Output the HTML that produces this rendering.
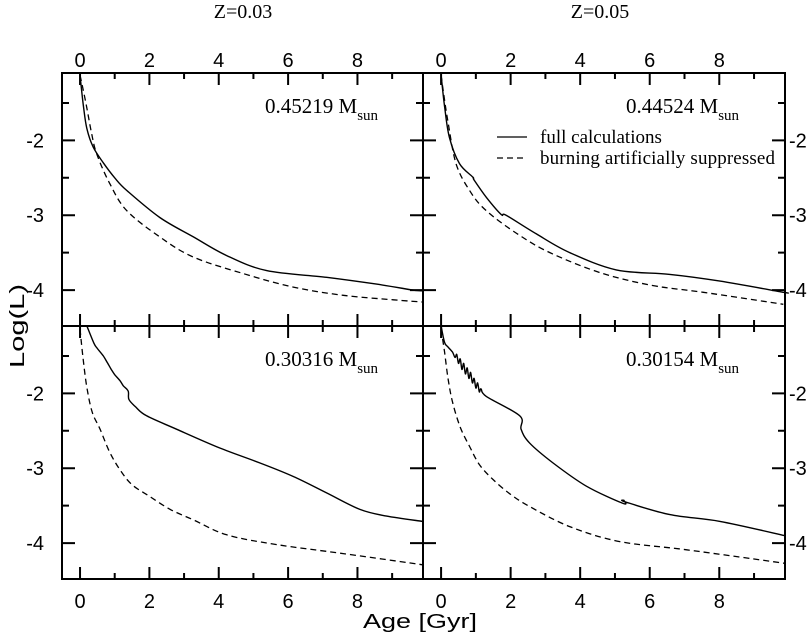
<!DOCTYPE html>
<html><head><meta charset="utf-8">
<style>
html,body{margin:0;padding:0;background:#fff;}
svg{display:block;}
.ax{font-family:"Liberation Sans",sans-serif;font-size:20px;fill:#000;}
.sr{font-family:"Liberation Serif",serif;fill:#000;}
</style></head>
<body>
<svg id="chart" width="812" height="636" viewBox="0 0 812 636" xmlns="http://www.w3.org/2000/svg">
<text class="sr" x="243" y="18" font-size="20" text-anchor="middle">Z=0.03</text>
<text class="sr" x="600" y="18" font-size="20" text-anchor="middle">Z=0.05</text>
<text class="ax" x="420" y="628" font-size="28" text-anchor="middle" textLength="114" lengthAdjust="spacingAndGlyphs">Age [Gyr]</text>
<text class="ax" transform="translate(24,326) rotate(-90)" font-size="26" text-anchor="middle" textLength="84" lengthAdjust="spacingAndGlyphs">Log(L)</text>
<g>
<line x1="497" y1="137" x2="527" y2="137" stroke="#000" stroke-width="1.3"/>
<text class="sr" x="540" y="143" font-size="19">full calculations</text>
<line x1="497" y1="158" x2="527" y2="158" stroke="#000" stroke-width="1.3" stroke-dasharray="6,4"/>
<text class="sr" x="540" y="164" font-size="19" textLength="235">burning artificially suppressed</text>
</g>
</svg>
<script>
// Panel data (age in Gyr, log L)
const tlSolidT=[0,0.1,0.2,0.38,0.67,1.0,1.35,2.3,3.27,4.23,5.38,7.11,8.55,9.6,9.88];
const tlSolidL=[-1.13,-1.55,-1.85,-2.09,-2.3,-2.5,-2.67,-3.03,-3.29,-3.54,-3.74,-3.83,-3.92,-4.0,-4.01];
const tlDashT=[0,0.08,0.19,0.33,0.48,0.86,1.35,2.3,3.27,4.71,6.15,7.59,9.03,9.88];
const tlDashL=[-1.13,-1.3,-1.55,-1.9,-2.18,-2.58,-2.94,-3.29,-3.56,-3.78,-3.96,-4.07,-4.13,-4.16];
const trSolidT=[0,0.1,0.24,0.53,0.91,0.95,1.3,1.73,1.87,2.74,3.7,5.04,6.58,8.02,9.84,9.88];
const trSolidL=[-1.13,-1.55,-1.96,-2.31,-2.49,-2.53,-2.76,-2.99,-3.0,-3.25,-3.5,-3.73,-3.79,-3.88,-4.03,-4.03];
const trDashT=[0,0.08,0.19,0.43,0.82,1.3,2.26,3.22,4.66,6.1,7.54,9.84];
const trDashL=[-1.13,-1.4,-1.73,-2.31,-2.67,-2.94,-3.27,-3.52,-3.78,-3.94,-4.03,-4.19];
const blSolidT=[0.19,0.4,0.5,0.67,0.8,0.9,1.0,1.15,1.25,1.39,1.41,1.6,1.92,2.79,4.03,5.19,6.15,7.11,8.07,8.84,9.88];
const blSolidL=[-1.09,-1.33,-1.4,-1.5,-1.6,-1.68,-1.75,-1.83,-1.9,-1.97,-2.08,-2.18,-2.3,-2.48,-2.73,-2.93,-3.11,-3.33,-3.55,-3.64,-3.71];
const blDashT=[0,0.08,0.19,0.35,0.58,0.85,1.15,1.5,2.02,2.6,3.27,4.23,5.67,7.59,9.88];
const blDashL=[-1.14,-1.5,-1.9,-2.25,-2.48,-2.78,-3.02,-3.22,-3.38,-3.55,-3.69,-3.89,-4.02,-4.14,-4.29];
const brSolidT=[0,0.1,0.2,0.33,0.4,0.45,0.5,0.55,0.6,0.65,0.7,0.75,0.8,0.85,0.9,0.95,1.0,1.05,1.1,1.15,1.3,2.26,2.3,2.54,3.22,4.18,5.23,5.26,5.3,6.58,8.02,9.88];
const brSolidL=[-1.1,-1.32,-1.38,-1.45,-1.52,-1.48,-1.6,-1.54,-1.68,-1.6,-1.74,-1.66,-1.8,-1.72,-1.86,-1.8,-1.93,-1.86,-1.98,-1.94,-2.04,-2.3,-2.48,-2.66,-2.93,-3.24,-3.47,-3.43,-3.45,-3.62,-3.71,-3.9];
const brDashT=[0,0.1,0.2,0.33,0.55,0.82,1.1,1.49,2.0,2.54,3.7,5.14,7.06,9.88];
const brDashL=[-1.14,-1.45,-1.8,-2.12,-2.45,-2.71,-2.95,-3.15,-3.35,-3.51,-3.78,-3.98,-4.09,-4.27];
const massLabels=["0.45219","0.44524","0.30316","0.30154"];
const xTickLabels=[0,2,4,6,8];
const yTickLabels=[-2,-3,-4];

const NS="http://www.w3.org/2000/svg";
const svg=document.getElementById('chart');
const XMIN=-0.52,XMAX=9.89,YMAX=-1.1,YMIN=-4.48;
const panels=[
 {x0:62,x1:423,y0:73,y1:326,s:[tlSolidT,tlSolidL],d:[tlDashT,tlDashL],m:massLabels[0],name:'top-left',top:true,left:true},
 {x0:423,x1:785,y0:73,y1:326,s:[trSolidT,trSolidL],d:[trDashT,trDashL],m:massLabels[1],name:'top-right',top:true,left:false},
 {x0:62,x1:423,y0:326,y1:579,s:[blSolidT,blSolidL],d:[blDashT,blDashL],m:massLabels[2],name:'bottom-left',top:false,left:true},
 {x0:423,x1:785,y0:326,y1:579,s:[brSolidT,brSolidL],d:[brDashT,brDashL],m:massLabels[3],name:'bottom-right',top:false,left:false}
];
function mk(tag,attrs,parent){const e=document.createElementNS(NS,tag);for(const k in attrs)e.setAttribute(k,attrs[k]);(parent||svg).appendChild(e);return e;}
function smooth(P){
 let d='M'+P[0][0].toFixed(1)+','+P[0][1].toFixed(1);
 for(let i=0;i<P.length-1;i++){
  const p0=P[Math.max(0,i-1)],p1=P[i],p2=P[i+1],p3=P[Math.min(P.length-1,i+2)];
  const k=1/6;
  const c1=[p1[0]+(p2[0]-p0[0])*k,p1[1]+(p2[1]-p0[1])*k];
  const c2=[p2[0]-(p3[0]-p1[0])*k,p2[1]-(p3[1]-p1[1])*k];
  d+='C'+c1[0].toFixed(1)+','+c1[1].toFixed(1)+' '+c2[0].toFixed(1)+','+c2[1].toFixed(1)+' '+p2[0].toFixed(1)+','+p2[1].toFixed(1);
 }
 return d;
}
panels.forEach(p=>{
 const sx=t=>p.x0+(t-XMIN)/(XMAX-XMIN)*(p.x1-p.x0);
 const sy=v=>p.y0+(YMAX-v)/(YMAX-YMIN)*(p.y1-p.y0);
 const g=mk('g',{});
 
 
 let tk='';
 for(let t=0;t<=9;t++){const x=sx(t),L=(t%2===0)?12:6;tk+=`M${x},${p.y0}v${L}M${x},${p.y1}v${-L}`;}
 for(let v=-1.5;v>=-4.5;v-=0.5){const y=sy(v);if(y<p.y0+1||y>p.y1-1)continue;const L=(Math.abs(v-Math.round(v))<0.01)?13:7;tk+=`M${p.x0},${y}h${L}M${p.x1},${y}h${-L}`;}
 const ticks=mk('path',{d:tk,stroke:'#000','stroke-width':2,fill:'none'},g);
 
 
 const fr=mk('rect',{x:p.x0,y:p.y0,width:p.x1-p.x0,height:p.y1-p.y0,fill:'none',stroke:'#000','stroke-width':2},g);
 
 
 const pts=(T,Lv)=>T.map((t,i)=>[sx(t),sy(Lv[i])]);
 const cs=mk('path',{d:smooth(pts(p.s[0],p.s[1])),stroke:'#000','stroke-width':1.4,fill:'none','stroke-linejoin':'round'},g);
 
 
 const cd=mk('path',{d:smooth(pts(p.d[0],p.d[1])),stroke:'#000','stroke-width':1.3,fill:'none','stroke-dasharray':'6,4'},g);
 
 
 const ml=mk('text',{x:p.x0+203,y:p.y0+40,'class':'sr','font-size':'21'},g);
 ml.innerHTML=p.m+' M<tspan font-size="15" dy="7">sun</tspan>';
 
 
 xTickLabels.forEach(t=>{
  const ty=p.top?p.y0-6:p.y1+29;
  const tl=mk('text',{x:sx(t),y:ty,'class':'ax','text-anchor':'middle'},g);
  tl.textContent=t;
  
  
 });
 yTickLabels.forEach(v=>{
  const ty=sy(v)+7;
  const tl=p.left?mk('text',{x:44,y:ty,'class':'ax','text-anchor':'end'},g):mk('text',{x:789,y:ty,'class':'ax'},g);
  tl.textContent=v;
  
  
 });
});
</script>
</body></html>
